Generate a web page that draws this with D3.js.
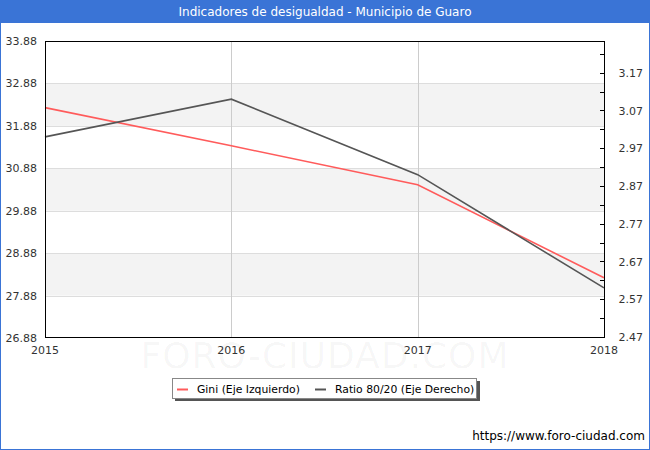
<!DOCTYPE html>
<html><head><meta charset="utf-8">
<script src="https://cdn.jsdelivr.net/npm/d3@7"></script>
<style>body{margin:0;background:#fff;} svg{display:block;font-family:"DejaVu Sans",Verdana,sans-serif;}</style>
</head><body>
<svg id="c" width="650" height="450"></svg>
<script>
const years = [2015, 2016, 2017, 2018];
const gini = [32.31, 31.41, 30.49, 28.30];
const ratio = [3.00, 3.10, 2.90, 2.60];
const leftTicks = [26.88, 27.88, 28.88, 29.88, 30.88, 31.88, 32.88, 33.88];
const rightTicks = [2.47, 2.57, 2.67, 2.77, 2.87, 2.97, 3.07, 3.17];
const rightMinor = [2.52, 2.62, 2.72, 2.82, 2.92, 3.02, 3.12, 3.22];
const title = "Indicadores de desigualdad - Municipio de Guaro";
const seriesNames = ["Gini (Eje Izquierdo)", "Ratio 80/20 (Eje Derecho)"];

const svg = d3.select("#c");
const W = 650, H = 450;
const L = 45, R = 605, T = 41, B = 338;

// frame
svg.append("rect").attr("x",0.5).attr("y",0.5).attr("width",W-1).attr("height",H-1).attr("fill","#fff").attr("stroke","#3a74d6").attr("stroke-width",1);
svg.append("rect").attr("x",0).attr("y",0).attr("width",W).attr("height",23).attr("fill","#3a74d6");
svg.append("text").attr("x",W/2).attr("y",16).attr("text-anchor","middle").attr("fill","#fff").attr("font-size",12).text(title);

const x = d3.scaleLinear().domain([2015, 2018]).range([L, R-1]);
const yL = d3.scaleLinear().domain([26.88, 33.88]).range([B, T]);
const yR = d3.scaleLinear().domain([2.47, 3.254]).range([B-1, T]);

// bands
for (let i = 0; i < leftTicks.length - 1; i++) {
  if (i % 2 === 1) {
    svg.append("rect").attr("x", L).attr("width", R - L)
      .attr("y", yL(leftTicks[i+1])).attr("height", yL(leftTicks[i]) - yL(leftTicks[i+1]))
      .attr("fill", "#f3f3f3");
  }
}
// horizontal grid
svg.append("g").selectAll("line").data(leftTicks.slice(1,-1)).join("line")
  .attr("x1", L).attr("x2", R).attr("y1", d => Math.round(yL(d))+0.5).attr("y2", d => Math.round(yL(d))+0.5)
  .attr("stroke", "#dddddd");
// vertical grid
svg.append("g").selectAll("line").data(years.slice(1,-1)).join("line")
  .attr("y1", T).attr("y2", B).attr("x1", d => Math.round(x(d))+0.5).attr("x2", d => Math.round(x(d))+0.5)
  .attr("stroke", "#cccccc");

// watermark
svg.append("text").attr("x", (L+R)/2).attr("y", 368).attr("text-anchor","middle")
  .attr("font-size", 36).attr("fill", "#000").attr("fill-opacity", 0.04).attr("letter-spacing", 1).text("FORO-CIUDAD.COM");

// lines
const lineL = d3.line().x((d,i) => x(years[i])).y(d => yL(d));
const lineR = d3.line().x((d,i) => x(years[i])).y(d => yR(d));
svg.append("path").datum(gini).attr("d", lineL).attr("fill","none").attr("stroke","#ff5b5b").attr("stroke-width",1.6);
svg.append("path").datum(ratio).attr("d", lineR).attr("fill","none").attr("stroke","#555555").attr("stroke-width",1.6);

// plot border
svg.append("rect").attr("x", L+0.5).attr("y", T+0.5).attr("width", R-L-1).attr("height", B-T-1)
  .attr("fill","none").attr("stroke","#000").attr("stroke-width",1);

// left axis labels
svg.append("g").selectAll("text").data(leftTicks).join("text")
  .attr("x", 37).attr("y", d => yL(d) + 4).attr("text-anchor","end").attr("font-size", 11).attr("fill","#333")
  .text(d => d.toFixed(2));

// right axis
const ra = d3.axisRight(yR).tickValues(rightTicks).tickSize(0).tickPadding(14).tickFormat(d3.format(".2f"));
const gR = svg.append("g").attr("transform", `translate(${R-0.5},0)`).call(ra);
gR.select(".domain").remove();
gR.selectAll("text").attr("font-size", 11).attr("fill","#333").attr("font-family","DejaVu Sans, Verdana, sans-serif");
svg.append("g").selectAll("line").data(rightTicks.concat(rightMinor)).join("line")
  .attr("x1", R-5).attr("x2", R).attr("y1", d => Math.round(yR(d))+0.5).attr("y2", d => Math.round(yR(d))+0.5)
  .attr("stroke","#000");

// x axis labels
svg.append("g").selectAll("text").data(years).join("text")
  .attr("x", d => x(d)).attr("y", 354).attr("text-anchor","middle").attr("font-size", 11).attr("fill","#333")
  .text(d => d);

// legend
const lg = svg.append("g");
lg.append("rect").attr("x", 175).attr("y", 381).attr("width", 305).attr("height", 20).attr("fill", "#555");
lg.append("rect").attr("x", 172.5).attr("y", 378.5).attr("width", 304).attr("height", 20).attr("fill", "#fff").attr("stroke","#888");
const items = [{name: seriesNames[0], color: "#ff5b5b", x: 177}, {name: seriesNames[1], color: "#555555", x: 315}];
items.forEach(it => {
  lg.append("line").attr("x1", it.x).attr("x2", it.x+11).attr("y1", 389.5).attr("y2", 389.5).attr("stroke", it.color).attr("stroke-width", 2);
  lg.append("text").attr("x", it.x + 20).attr("y", 393).attr("font-size", 10.8).attr("fill","#000").text(it.name);
});

// url
svg.append("text").attr("x", 645).attr("y", 440).attr("text-anchor","end").attr("font-size", 12).attr("fill","#000").text("https://www.foro-ciudad.com");
</script>
</body></html>
